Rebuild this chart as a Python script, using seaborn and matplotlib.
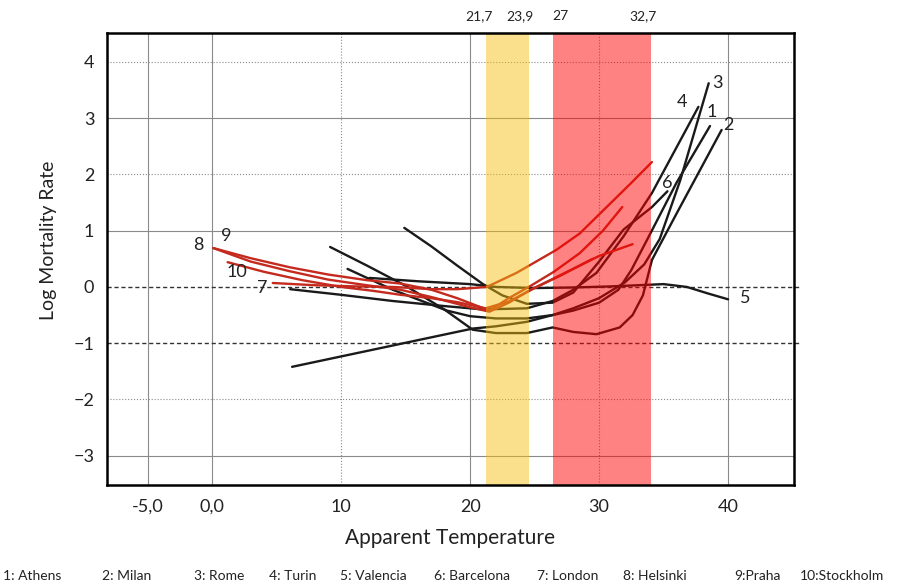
import pandas as pd
import matplotlib
matplotlib.use("Agg")
import matplotlib.pyplot as plt
import seaborn as sns

# curve values (apparent temperature, log mortality rate)
athens_temp = [10.5, 14.0, 18.2, 20.0, 22.0, 24.4, 26.4, 28.0, 30.0, 31.5, 32.5, 34.0, 36.0, 38.6]
athens_log = [0.32, -0.05, -0.42, -0.52, -0.56, -0.56, -0.5, -0.42, -0.28, -0.05, 0.3, 0.96, 1.85, 2.86]

milan_temp = [9.15, 12.0, 15.0, 18.0, 20.2, 22.0, 24.4, 26.4, 28.0, 29.8, 31.6, 32.6, 33.4, 34.1, 36.0, 39.5]
milan_log = [0.71, 0.38, 0.02, -0.4, -0.76, -0.82, -0.82, -0.72, -0.8, -0.84, -0.72, -0.5, -0.15, 0.48, 1.3, 2.79]

rome_temp = [6.2, 20.2, 22.0, 24.4, 26.4, 28.0, 30.0, 32.0, 33.5, 34.7, 36.3, 38.5]
rome_log = [-1.42, -0.74, -0.7, -0.62, -0.5, -0.38, -0.2, 0.08, 0.4, 0.85, 1.9, 3.62]

turin_temp = [6.05, 10.0, 14.0, 18.0, 21.0, 24.4, 26.4, 28.0, 29.8, 31.9, 34.1, 37.7]
turin_log = [-0.04, -0.14, -0.25, -0.34, -0.4, -0.38, -0.25, -0.05, 0.25, 0.9, 1.67, 3.2]

valencia_temp = [12.2, 16.0, 20.0, 22.0, 25.0, 28.0, 31.0, 33.0, 35.0, 36.8, 38.5, 40.0]
valencia_log = [0.16, 0.1, 0.05, 0.0, -0.02, -0.01, 0.01, 0.03, 0.05, 0.0, -0.12, -0.22]

barcelona_temp = [14.9, 17.0, 19.0, 21.0, 22.5, 24.4, 26.4, 28.0, 30.0, 31.9, 34.1, 35.3]
barcelona_log = [1.05, 0.72, 0.38, 0.05, -0.15, -0.3, -0.28, -0.1, 0.45, 1.02, 1.42, 1.7]

london_temp = [4.7, 8.0, 11.0, 14.0, 17.0, 19.0, 21.3, 23.6, 26.7, 28.5, 30.5, 32.5, 34.1]
london_log = [0.07, 0.03, 0.01, 0.0, -0.04, -0.04, 0.0, 0.25, 0.66, 0.95, 1.4, 1.85, 2.22]

helsinki_temp = [0.1, 3.0, 6.0, 9.0, 12.0, 14.6, 17.0, 19.8, 21.5, 23.0, 24.7, 27.8, 30.0, 32.6]
helsinki_log = [0.69, 0.45, 0.28, 0.13, 0.03, -0.05, -0.18, -0.35, -0.44, -0.28, -0.05, 0.3, 0.55, 0.76]

praha_temp = [0.1, 3.0, 6.0, 9.0, 12.0, 14.6, 17.0, 19.0, 21.5, 23.0, 24.7, 26.5, 28.5, 30.3, 31.8]
praha_log = [0.69, 0.51, 0.35, 0.22, 0.12, 0.06, -0.05, -0.2, -0.42, -0.2, 0.02, 0.27, 0.6, 1.0, 1.42]

stockholm_temp = [1.2, 4.0, 7.0, 10.0, 12.5, 14.6, 17.0, 19.0, 21.2, 23.0, 25.0, 27.0, 29.5]
stockholm_log = [0.44, 0.27, 0.12, 0.0, -0.07, -0.14, -0.2, -0.27, -0.38, -0.26, -0.02, 0.2, 0.5]

cities = ["Athens", "Milan", "Rome", "Turin", "Valencia", "Barcelona",
          "London", "Helsinki", "Praha", "Stockholm"]
legend_labels = ["1: Athens", "2: Milan", "3: Rome", "4: Turin", "5: Valencia",
                 "6: Barcelona", "7: London", "8: Helsinki", "9:Praha", "10:Stockholm"]
curve_numbers = ["1", "2", "3", "4", "5", "6", "7", "8", "9", "10"]
# where each number sits next to its curve (data coords)
number_x = [38.7, 40.0, 39.2, 36.4, 41.3, 35.3, 3.9, -1.1, 1.1, 1.9]
number_y = [3.11, 2.88, 3.62, 3.29, -0.2, 1.85, -0.02, 0.75, 0.91, 0.27]

# comfort / heat bands and their labels on top
yellow_band = (21.2, 24.6)
red_band = (26.4, 34.0)
top_tick_pos = [20.7, 23.9, 27.0, 33.4]
top_tick_labels = ["21,7", "23,9", "27", "32,7"]

x_ticks = [-5, 0, 10, 20, 30, 40]
x_tick_labels = ["-5,0", "0,0", "10", "20", "30", "40"]
y_ticks = [4, 3, 2, 1, 0, -1, -2, -3]

curves = {
    "Athens": (athens_temp, athens_log),
    "Milan": (milan_temp, milan_log),
    "Rome": (rome_temp, rome_log),
    "Turin": (turin_temp, turin_log),
    "Valencia": (valencia_temp, valencia_log),
    "Barcelona": (barcelona_temp, barcelona_log),
    "London": (london_temp, london_log),
    "Helsinki": (helsinki_temp, helsinki_log),
    "Praha": (praha_temp, praha_log),
    "Stockholm": (stockholm_temp, stockholm_log),
}

rows = []
for city, (temps, vals) in curves.items():
    for t, v in zip(temps, vals):
        rows.append({"city": city, "temp": t, "log_mort": v})
df = pd.DataFrame(rows)

palette = {c: "#1a1a1a" for c in cities[:6]}
palette.update({c: "#c42a1e" for c in cities[6:]})

sns.set_style("white")
plt.rcParams["font.family"] = ["Lato", "DejaVu Sans"]
text_col = "#222222"

fig = plt.figure(figsize=(8.98, 5.82), dpi=100)
ax = fig.add_axes([0.119, 0.1667, 0.765, 0.7763])

# grid, drawn by hand because the styles differ line to line
for xv, ls in zip(x_ticks, ["-", "-", ":", "-", ":", "-"]):
    ax.axvline(xv, color="#8a8a8a", lw=0.8, ls=ls, zorder=1)
for yv in y_ticks:
    if yv in (0, -1):
        ax.axhline(yv, color="#333333", lw=1.0, ls=(0, (3, 2)), zorder=1,
                   xmin=0.0, xmax=1.008, clip_on=False)
    else:
        ax.axhline(yv, color="#8a8a8a", lw=0.8, ls=":" if yv % 2 == 0 else "-", zorder=1)

sns.lineplot(data=df, x="temp", y="log_mort", hue="city", units="city",
             estimator=None, sort=False, palette=palette, legend=False,
             linewidth=1.7, ax=ax, zorder=2)

# translucent bands on top of the curves
ax.axvspan(*yellow_band, color=(245 / 255, 191 / 255, 11 / 255), alpha=0.47, lw=0, zorder=3)
ax.axvspan(*red_band, color=(1.0, 0.0, 0.0), alpha=0.49, lw=0, zorder=3)

for num, nx, ny in zip(curve_numbers, number_x, number_y):
    ax.text(nx, ny, num, fontsize=13, color=text_col, ha="center", va="center", zorder=4)

ax.set_xlim(-8.16, 45.1)
ax.set_ylim(-3.52, 4.51)
ax.set_xticks(x_ticks)
ax.set_xticklabels(x_tick_labels)
ax.set_yticks(y_ticks)
ax.tick_params(axis="both", length=0, labelsize=13, colors=text_col)
ax.tick_params(axis="x", pad=10)
ax.tick_params(axis="y", pad=9)

top = ax.secondary_xaxis("top")
top.set_xticks(top_tick_pos)
top.set_xticklabels(top_tick_labels)
top.tick_params(length=0, labelsize=10, colors=text_col, pad=8)
top.spines["top"].set_visible(False)

ax.set_xlabel("Apparent Temperature", fontsize=15, color=text_col)
ax.set_ylabel("Log Mortality Rate", fontsize=14, color=text_col)
ax.xaxis.set_label_coords(0.5, -0.095)
ax.yaxis.set_label_coords(-0.073, 0.542)

for sp in ax.spines.values():
    sp.set_color("black")
    sp.set_linewidth(1.8)
    sp.set_zorder(5)

# city key along the bottom
legend_x = [3, 102, 194, 269, 340, 434, 537, 623, 734, 800]
for lx, lab in zip(legend_x, legend_labels):
    fig.text(lx / 898, 1 - 576 / 582, lab, fontsize=10, color=text_col, ha="left", va="center")

fig.savefig("out.png", dpi=100)
